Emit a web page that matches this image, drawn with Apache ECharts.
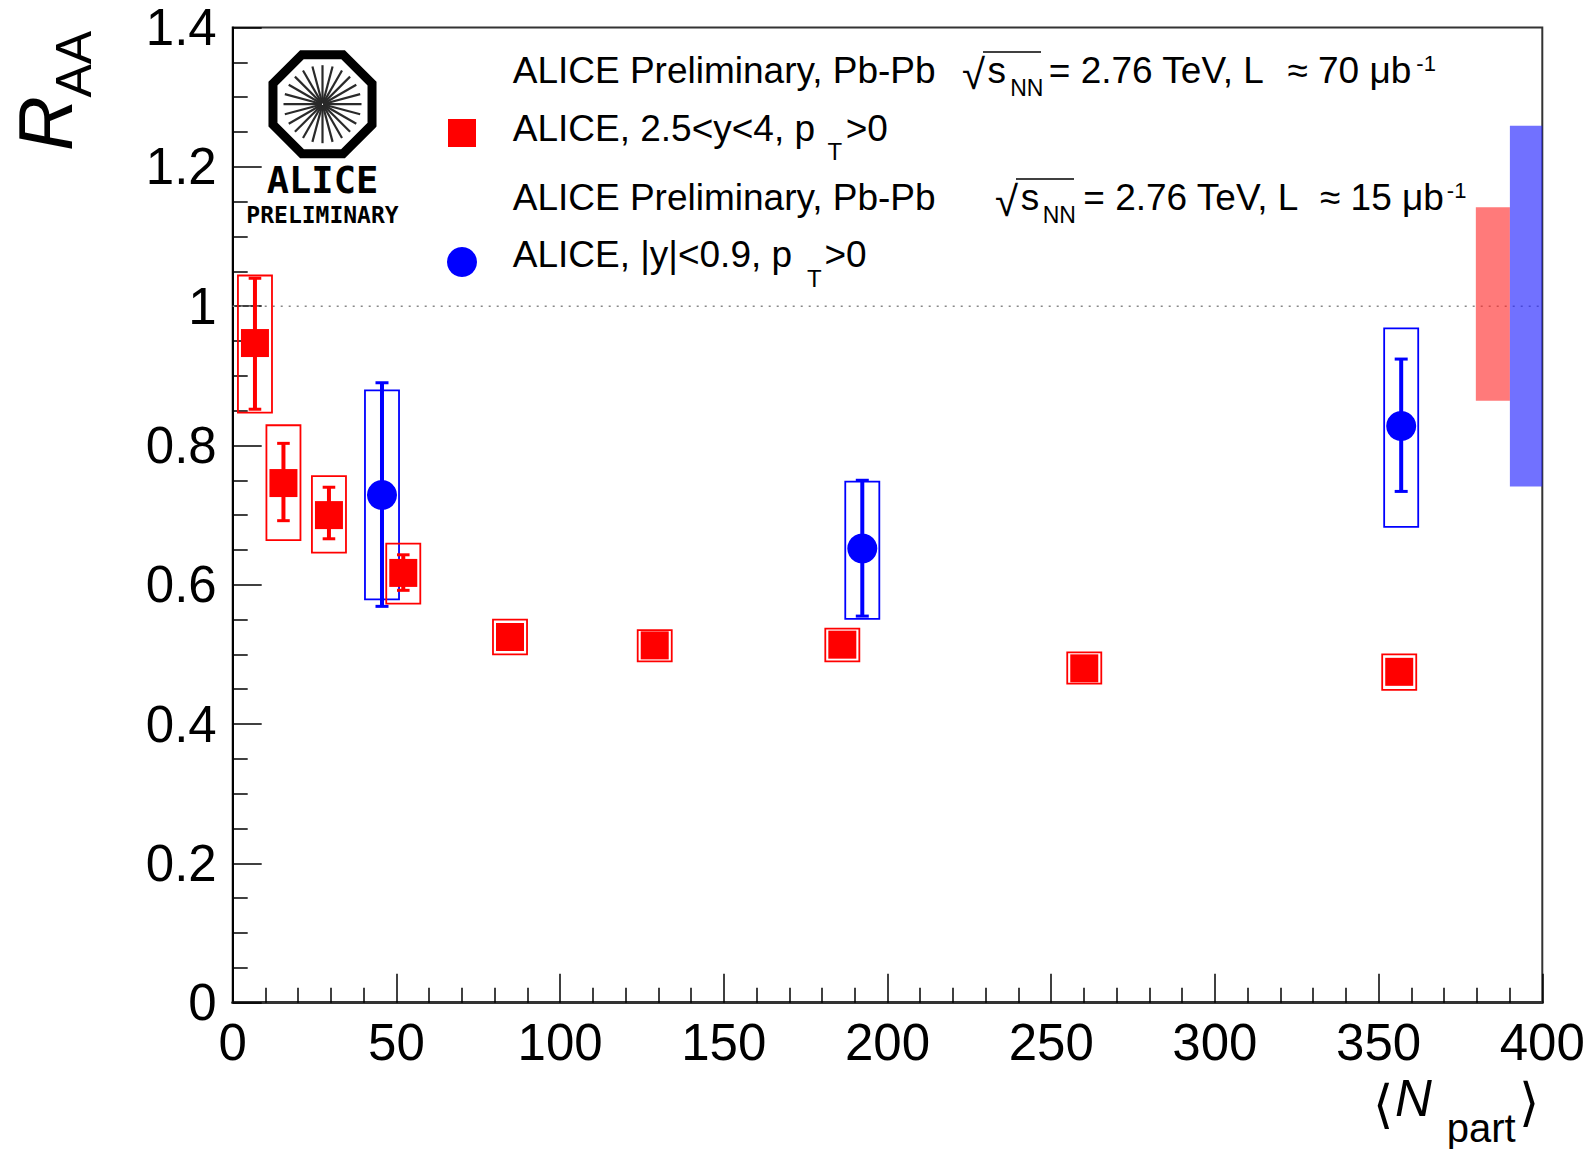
<!DOCTYPE html>
<html>
<head>
<meta charset="utf-8">
<script src="https://cdn.jsdelivr.net/npm/echarts@6/dist/echarts.min.js"></script>
<style>
html,body{margin:0;padding:0;background:#fff;}
#chart{width:1592px;height:1149px;}
</style>
</head>
<body>
<div id="chart"></div>
<script>
// ---------- data ----------
const xTicks = [0, 50, 100, 150, 200, 250, 300, 350, 400];
const yTicks = [0, 0.2, 0.4, 0.6, 0.8, 1, 1.2, 1.4];

// forward rapidity (2.5<y<4), red squares
const redNpart     = [6.8, 15.5, 29.4, 52.1, 84.7, 128.9, 186.2, 260.1, 356.3];
const redRaa       = [0.947, 0.746, 0.700, 0.617, 0.525, 0.513, 0.514, 0.480, 0.475];
const redStatLow   = [0.852, 0.692, 0.666, 0.592, 0.515, 0.503, 0.504, 0.470, 0.465];
const redStatHigh  = [1.040, 0.803, 0.740, 0.643, 0.535, 0.523, 0.524, 0.490, 0.485];
const redSystLow   = [0.847, 0.664, 0.646, 0.573, 0.500, 0.490, 0.490, 0.458, 0.449];
const redSystHigh  = [1.044, 0.829, 0.756, 0.659, 0.550, 0.535, 0.537, 0.503, 0.500];

// mid rapidity (|y|<0.9), blue circles
const blueNpart    = [45.6, 192.3, 356.9];
const blueRaa      = [0.729, 0.652, 0.828];
const blueStatLow  = [0.569, 0.555, 0.734];
const blueStatHigh = [0.890, 0.750, 0.924];
const blueSystLow  = [0.579, 0.551, 0.683];
const blueSystHigh = [0.879, 0.748, 0.968];

// global (correlated) uncertainties at R_AA = 1
const globalNLow   = [379.7, 390.1];
const globalNHigh  = [390.1, 400];
const globalLow    = [0.864, 0.741];
const globalHigh   = [1.142, 1.259];

const unityLine = [[0, 1], [400, 1]];

// ---------- styles ----------
const RED = '#ff0000', BLUE = '#0000ff';
const SYST_HALF = 5.2;       // half width of systematic boxes (x units)
const FONT = '"Liberation Sans", Arial, Helvetica, sans-serif';

const chart = echarts.init(document.getElementById('chart'), null, {renderer: 'svg'});

function zip(...arrs) { return arrs[0].map((_, i) => arrs.map(a => a[i])); }

function systItem(color) {
  return function (params, api) {
    const x = api.value(0), lo = api.value(1), hi = api.value(2);
    const p1 = api.coord([x - SYST_HALF, hi]);
    const p2 = api.coord([x + SYST_HALF, lo]);
    return {
      type: 'rect',
      shape: {x: p1[0], y: p1[1], width: p2[0] - p1[0], height: p2[1] - p1[1]},
      style: {fill: 'none', stroke: color, lineWidth: 1.8}
    };
  };
}
function statItem(color, capHalf) {
  return function (params, api) {
    const x = api.value(0), lo = api.value(1), hi = api.value(2);
    const top = api.coord([x, hi]);
    const bot = api.coord([x, lo]);
    return {
      type: 'group',
      children: [
        {type: 'line', shape: {x1: top[0], y1: top[1], x2: bot[0], y2: bot[1]}, style: {stroke: color, lineWidth: 4}},
        {type: 'line', shape: {x1: top[0] - capHalf, y1: top[1], x2: top[0] + capHalf, y2: top[1]}, style: {stroke: color, lineWidth: 3}},
        {type: 'line', shape: {x1: bot[0] - capHalf, y1: bot[1], x2: bot[0] + capHalf, y2: bot[1]}, style: {stroke: color, lineWidth: 3}}
      ]
    };
  };
}
const globalColors = ['rgba(255,40,40,0.62)', 'rgba(40,40,255,0.66)'];
function globalItem(params, api) {
  const p1 = api.coord([api.value(0), api.value(3)]);
  const p2 = api.coord([api.value(1), api.value(2)]);
  return {
    type: 'rect',
    shape: {x: p1[0], y: p1[1], width: p2[0] - p1[0], height: p2[1] - p1[1]},
    style: {fill: globalColors[params.dataIndex]}
  };
}

// ---------- text helpers ----------
function T(text, x, y, size, extra) {
  return Object.assign({
    type: 'text', x: x, y: y, z: 100,
    style: Object.assign({text: text, fontSize: size, fontFamily: FONT, fill: '#000',
      align: 'left', verticalAlign: 'middle'}, (extra && extra.style) || {})
  }, extra && extra.el ? extra.el : {});
}
function L(x1, y1, x2, y2, w, c) {
  return {type: 'line', z: 100, shape: {x1, y1, x2, y2}, style: {stroke: c || '#000', lineWidth: w}};
}

// ALICE logo
const logoCx = 322.5, logoCy = 104.2;
const octPts = [];
for (let k = 0; k < 8; k++) {
  const a = (22.5 + 45 * k) * Math.PI / 180;
  octPts.push([logoCx + 53.6 * Math.cos(a), logoCy + 53.6 * Math.sin(a)]);
}
const logo = [{type: 'polygon', z: 100, shape: {points: octPts}, style: {fill: 'none', stroke: '#000', lineWidth: 9, lineJoin: 'miter'}}];
for (let k = 0; k < 24; k++) {
  const a = k * 15 * Math.PI / 180;
  logo.push(L(logoCx + 1 * Math.cos(a), logoCy + 1 * Math.sin(a),
              logoCx + 39 * Math.cos(a), logoCy + 39 * Math.sin(a), 2.2, '#2a2a2a'));
}
logo.push(T('ALICE', 322.5, 180, 37, {style: {fontFamily: '"DejaVu Sans Mono", monospace', fontWeight: 'bold', align: 'center'}}));
logo.push(T('PRELIMINARY', 322.5, 214.7, 23, {style: {fontFamily: '"DejaVu Sans Mono", monospace', fontWeight: 'bold', align: 'center'}}));

const legendTexts = [
  // line 1
  T('ALICE Preliminary, Pb-Pb', 512.7, 70, 37),
  T('\u221A', 962, 74, 42),
  L(983, 52, 1041, 52, 1.5),
  T('s', 987.5, 70, 37),
  T('NN', 1010.2, 88, 23),
  T('= 2.76 TeV, L', 1048.8, 70, 37),
  T('\u2248 70 \u03BCb', 1287.4, 70, 37),
  T('-1', 1416.3, 63.5, 22),
  // line 2
  {type: 'rect', z: 100, shape: {x: 448, y: 119, width: 28, height: 28}, style: {fill: RED}},
  T('ALICE, 2.5<y<4, p', 512.7, 128, 37),
  T('T', 827.5, 151, 24),
  T('>0', 845.7, 128, 37),
  // line 3
  T('ALICE Preliminary, Pb-Pb', 512.7, 197, 37),
  T('\u221A', 995, 201, 42),
  L(1016, 179, 1074, 179, 1.5),
  T('s', 1020.8, 197, 37),
  T('NN', 1042.7, 215, 23),
  T('= 2.76 TeV, L', 1083.3, 197, 37),
  T('\u2248 15 \u03BCb', 1320, 197, 37),
  T('-1', 1446.8, 190.5, 22),
  // line 4
  {type: 'circle', z: 100, shape: {cx: 462, cy: 262, r: 15}, style: {fill: BLUE}},
  T('ALICE, |y|<0.9, p', 512.7, 254, 37),
  T('T', 807, 278, 24),
  T('>0', 824.4, 254, 37)
];

const axisTitles = [
  T('R', 45.4, 151, 76, {style: {fontStyle: 'italic'}, el: {rotation: Math.PI / 2}}),
  T('AA', 74.4, 97.5, 50, {el: {rotation: Math.PI / 2}}),
  T('\u27E8', 1373, 1104, 52, {style: {fontFamily: '"DejaVu Sans", sans-serif'}}),
  T('N', 1395, 1098.3, 51, {style: {fontStyle: 'italic'}}),
  T('part', 1446.7, 1127.5, 40),
  T('\u27E9', 1519, 1102, 52, {style: {fontFamily: '"DejaVu Sans", sans-serif'}})
];

const tickStyle = {color: '#000', width: 1.5};

const option = {
  animation: false,
  backgroundColor: '#fff',
  grid: {left: 232.7, right: 49.7, top: 27.5, bottom: 146.3, show: true,
         borderColor: '#333', borderWidth: 2, backgroundColor: 'transparent'},
  xAxis: {
    type: 'value', min: xTicks[0], max: xTicks[xTicks.length - 1], interval: xTicks[1] - xTicks[0],
    axisLine: {show: true, onZero: false, lineStyle: {color: '#333', width: 3}},
    axisTick: {show: true, inside: true, length: 29, lineStyle: tickStyle},
    minorTick: {show: true, splitNumber: 5, length: 15, lineStyle: tickStyle},
    splitLine: {show: false},
    axisLabel: {fontSize: 51, fontFamily: FONT, color: '#000', margin: 14, showMinLabel: true, showMaxLabel: true}
  },
  yAxis: {
    type: 'value', min: yTicks[0], max: yTicks[yTicks.length - 1], interval: 0.2,
    axisLine: {show: true, onZero: false, lineStyle: {color: '#000', width: 2}},
    axisTick: {show: true, inside: true, length: 29, lineStyle: tickStyle},
    minorTick: {show: true, splitNumber: 4, length: 15, lineStyle: tickStyle},
    splitLine: {show: false},
    axisLabel: {fontSize: 51, fontFamily: FONT, color: '#000', margin: 16, showMinLabel: true, showMaxLabel: true,
                formatter: v => String(Math.round(v * 10) / 10)}
  },
  series: [
    {type: 'line', data: unityLine, symbol: 'none', silent: true, z: 1,
     lineStyle: {color: '#888', width: 1.5, type: [2, 6]}},
    {type: 'custom', renderItem: globalItem, z: 2, silent: true,
     data: zip(globalNLow, globalNHigh, globalLow, globalHigh)},
    {type: 'custom', renderItem: systItem(BLUE), z: 3, silent: true,
     data: zip(blueNpart, blueSystLow, blueSystHigh)},
    {type: 'custom', renderItem: statItem(BLUE, 6.5), z: 4, silent: true,
     data: zip(blueNpart, blueStatLow, blueStatHigh)},
    {type: 'scatter', symbol: 'circle', symbolSize: 30, z: 5, silent: true,
     itemStyle: {color: BLUE, opacity: 1}, data: zip(blueNpart, blueRaa)},
    {type: 'custom', renderItem: systItem(RED), z: 6, silent: true,
     data: zip(redNpart, redSystLow, redSystHigh)},
    {type: 'custom', renderItem: statItem(RED, 6.3), z: 7, silent: true,
     data: zip(redNpart, redStatLow, redStatHigh)},
    {type: 'scatter', symbol: 'rect', symbolSize: 28, z: 8, silent: true,
     itemStyle: {color: RED, opacity: 1}, data: zip(redNpart, redRaa)}
  ],
  graphic: logo.concat(legendTexts, axisTitles)
};
chart.setOption(option);
</script>
</body>
</html>
